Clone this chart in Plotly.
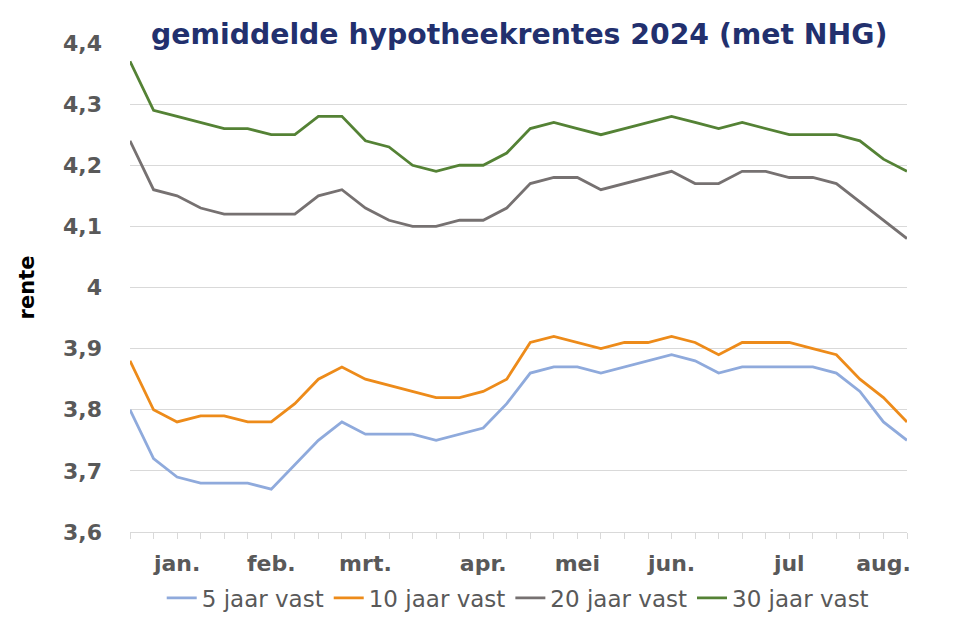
import plotly.graph_objects as go

weeks = list(range(34))
jaar5 = [3.80, 3.72, 3.69, 3.68, 3.68, 3.68, 3.67, 3.71, 3.75, 3.78, 3.76, 3.76, 3.76, 3.75, 3.76, 3.77, 3.81,
         3.86, 3.87, 3.87, 3.86, 3.87, 3.88, 3.89, 3.88, 3.86, 3.87, 3.87, 3.87, 3.87, 3.86, 3.83, 3.78, 3.75]
jaar10 = [3.88, 3.80, 3.78, 3.79, 3.79, 3.78, 3.78, 3.81, 3.85, 3.87, 3.85, 3.84, 3.83, 3.82, 3.82, 3.83, 3.85,
          3.91, 3.92, 3.91, 3.90, 3.91, 3.91, 3.92, 3.91, 3.89, 3.91, 3.91, 3.91, 3.90, 3.89, 3.85, 3.82, 3.78]
jaar20 = [4.24, 4.16, 4.15, 4.13, 4.12, 4.12, 4.12, 4.12, 4.15, 4.16, 4.13, 4.11, 4.10, 4.10, 4.11, 4.11, 4.13,
          4.17, 4.18, 4.18, 4.16, 4.17, 4.18, 4.19, 4.17, 4.17, 4.19, 4.19, 4.18, 4.18, 4.17, 4.14, 4.11, 4.08]
jaar30 = [4.37, 4.29, 4.28, 4.27, 4.26, 4.26, 4.25, 4.25, 4.28, 4.28, 4.24, 4.23, 4.20, 4.19, 4.20, 4.20, 4.22,
          4.26, 4.27, 4.26, 4.25, 4.26, 4.27, 4.28, 4.27, 4.26, 4.27, 4.26, 4.25, 4.25, 4.25, 4.24, 4.21, 4.19]

month_pos = [2, 6, 10, 15, 19, 23, 28, 32]
month_labels = ["jan.", "feb.", "mrt.", "apr.", "mei", "jun.", "jul", "aug."]
y_vals = [3.6, 3.7, 3.8, 3.9, 4.0, 4.1, 4.2, 4.3, 4.4]
y_labels = ["3,6", "3,7", "3,8", "3,9", "4", "4,1", "4,2", "4,3", "4,4"]

series = [
    ("5 jaar vast", jaar5, "#8FAADC"),
    ("10 jaar vast", jaar10, "#ED8B1A"),
    ("20 jaar vast", jaar20, "#767171"),
    ("30 jaar vast", jaar30, "#548235"),
]

fig = go.Figure()
for name, vals, col in series:
    fig.add_trace(go.Scatter(x=weeks, y=vals, mode="lines", name=name,
                             line=dict(color=col, width=2.8)))

FONT = "DejaVu Sans"
fig.update_layout(
    width=961, height=633,
    paper_bgcolor="white", plot_bgcolor="white",
    margin=dict(l=122, r=62, t=35, b=109),
    font=dict(family=FONT, color="#595959"),
    title=dict(text="<b>gemiddelde hypotheekrentes 2024 (met NHG)</b>",
               font=dict(family=FONT, size=28.3, color="#22306E"),
               x=0.532, xanchor="center", y=0.958, yanchor="middle"),
    showlegend=True,
    legend=dict(orientation="h", x=0.499, xanchor="center", y=-0.135, yanchor="middle",
                font=dict(family=FONT, size=23, color="#595959"),
                itemwidth=30, tracegroupgap=0, traceorder="normal"),
    xaxis=dict(range=[0, 33], tickmode="array", tickvals=month_pos, ticktext=month_labels,
               showgrid=False, zeroline=False, showline=True, linecolor="#D9D9D9", linewidth=1,
               ticks="outside", ticklen=6, tickcolor="#D9D9D9", ticklabelstandoff=6,
               tickfont=dict(family=FONT, size=22, color="#595959", weight="bold"),
               minor=dict(ticks="outside", dtick=1, tick0=0, ticklen=6, tickcolor="#D9D9D9", showgrid=False)),
    yaxis=dict(range=[3.6, 4.4], tickmode="array", tickvals=y_vals, ticktext=y_labels,
               showgrid=True, gridcolor="#D9D9D9", gridwidth=1, zeroline=False, showline=False,
               ticks="", ticklabelstandoff=27,
               tickfont=dict(family=FONT, size=22, color="#595959", weight="bold"),
               title=dict(text="<b>rente</b>", font=dict(family=FONT, size=21, color="#000000"), standoff=22)),
)

fig.write_html("out.html")
